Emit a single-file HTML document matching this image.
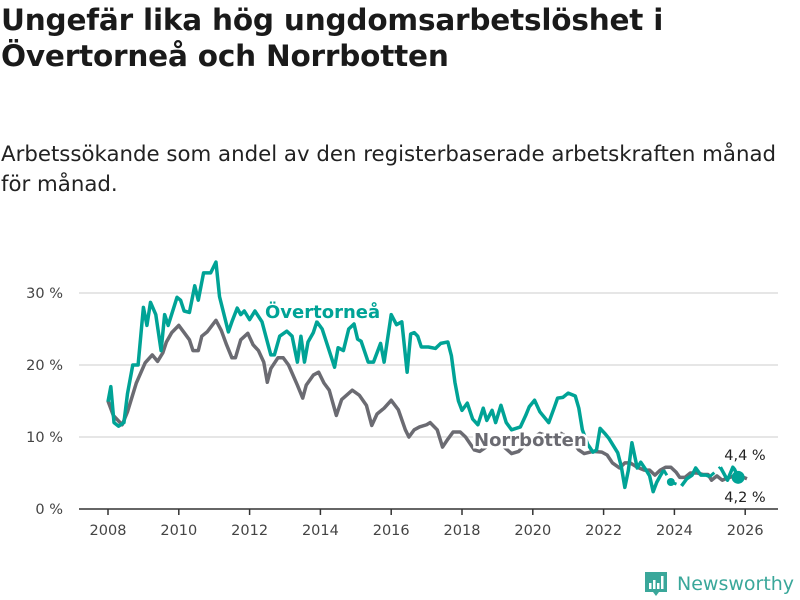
<!DOCTYPE html>
<html><head><meta charset="utf-8"><style>
body{margin:0;background:#fff;width:800px;height:600px;overflow:hidden;font-family:"DejaVu Sans","Liberation Sans",sans-serif;}
#title{position:absolute;left:1px;top:2px;font-size:29.5px;font-weight:bold;color:#1a1a1a;line-height:36px;margin:0;white-space:nowrap;letter-spacing:-0.2px;}
#sub{position:absolute;left:1px;top:140px;font-size:21.3px;color:#222;line-height:30px;white-space:nowrap;}
svg{position:absolute;left:0;top:0;}
</style></head><body>
<h1 id="title">Ungefär lika hög ungdomsarbetslöshet i<br>Övertorneå och Norrbotten</h1>
<div id="sub">Arbetssökande som andel av den registerbaserade arbetskraften månad<br>för månad.</div>
<svg id="chart" width="800" height="600"></svg>
<script>
const yTicks=[0,10,20,30];
const yTickLabels=["0 %","10 %","20 %","30 %"];
const xTicks=[2008,2010,2012,2014,2016,2018,2020,2022,2024,2026];
const overDates=[2008.0,2008.08,2008.17,2008.3,2008.45,2008.55,2008.7,2008.85,2009.0,2009.1,2009.2,2009.35,2009.5,2009.6,2009.7,2009.95,2010.05,2010.15,2010.3,2010.45,2010.55,2010.7,2010.9,2011.05,2011.15,2011.4,2011.5,2011.65,2011.75,2011.85,2012.0,2012.15,2012.35,2012.6,2012.7,2012.85,2013.05,2013.2,2013.35,2013.45,2013.55,2013.65,2013.8,2013.9,2014.05,2014.4,2014.5,2014.65,2014.8,2014.95,2015.05,2015.15,2015.35,2015.5,2015.7,2015.8,2016.0,2016.15,2016.3,2016.45,2016.55,2016.65,2016.75,2016.85,2017.05,2017.25,2017.4,2017.6,2017.7,2017.8,2017.9,2018.0,2018.15,2018.3,2018.45,2018.6,2018.7,2018.85,2018.95,2019.1,2019.25,2019.4,2019.65,2019.8,2019.9,2020.05,2020.2,2020.45,2020.6,2020.7,2020.85,2021.0,2021.2,2021.3,2021.4,2021.55,2021.7,2021.8,2021.9,2022.05,2022.15,2022.3,2022.4,2022.5,2022.6,2022.7,2022.8,2022.95,2023.05,2023.2,2023.3,2023.4,2023.5,2023.6,2023.7,2023.8,2023.9,2024.05,2024.2,2024.35,2024.5,2024.6,2024.75,2024.9,2025.0,2025.2,2025.3,2025.5,2025.65,2025.7,2025.8,2025.9,2026.05];
const overValues=[14.9,17,12,11.5,12,16,20,20,28,25.5,28.7,27,22,27,25.5,29.4,29,27.5,27.3,31,29,32.8,32.8,34.3,29.5,24.6,26,27.9,27,27.5,26.3,27.5,26,21.4,21.4,24,24.7,24,20.4,24,20.4,23.2,24.5,26,25,19.7,22.4,22,25,25.7,23.6,23.3,20.4,20.4,23,20.4,27,25.6,26,19,24.3,24.5,24,22.5,22.5,22.3,23,23.2,21.3,17.6,15,13.7,14.7,12.5,11.7,14,12.3,13.7,12,14.4,12,11,11.4,13,14.2,15.1,13.5,12,14,15.4,15.5,16.1,15.7,14,11,9,7.9,8.2,11.2,10.4,9.8,8.6,7.8,5.9,3,5.4,9.2,5.7,6.5,5.4,4.6,2.4,3.7,4.6,5.4,null,3.75,null,3.2,4.2,4.7,5.7,4.7,4.7,4.5,null,5.8,4,5.8,5.5,4.4];
const norrDates=[2008.0,2008.15,2008.4,2008.55,2008.8,2009.05,2009.25,2009.4,2009.55,2009.65,2009.8,2010.0,2010.15,2010.3,2010.4,2010.55,2010.65,2010.8,2011.05,2011.2,2011.35,2011.5,2011.6,2011.75,2011.95,2012.1,2012.25,2012.4,2012.5,2012.6,2012.8,2012.95,2013.1,2013.35,2013.5,2013.6,2013.8,2013.95,2014.1,2014.25,2014.45,2014.6,2014.9,2015.1,2015.3,2015.45,2015.6,2015.8,2016.0,2016.2,2016.4,2016.5,2016.65,2016.8,2017.0,2017.1,2017.3,2017.45,2017.6,2017.75,2017.95,2018.1,2018.35,2018.5,2018.8,2019.1,2019.4,2019.6,2019.9,2020.2,2020.5,2020.8,2021.1,2021.3,2021.45,2021.7,2021.95,2022.1,2022.25,2022.45,2022.6,2022.75,2022.95,2023.15,2023.3,2023.45,2023.6,2023.75,2023.9,2024.05,2024.15,2024.3,2024.45,2024.65,2024.8,2024.95,2025.05,2025.2,2025.35,2025.5,2025.7,2025.85,2026.05];
const norrValues=[15,13,11.7,13.5,17.5,20.3,21.4,20.5,21.7,23.2,24.5,25.5,24.5,23.5,22,22,24,24.6,26.2,24.8,22.8,21,21,23.5,24.4,22.8,22,20.4,17.6,19.5,21,21,20,17.2,15.4,17.2,18.6,19,17.5,16.5,13,15.2,16.5,15.8,14.4,11.6,13.2,14,15.1,13.8,11,10,11,11.4,11.7,12,11,8.6,9.7,10.7,10.7,10,8.2,8,9,9,7.7,8,9.5,10.5,10,10.5,9.5,8.2,7.7,8,7.9,7.5,6.4,5.7,6.4,6.4,5.8,5.4,5.4,4.7,5.4,5.8,5.8,5.1,4.4,4.4,5,5,4.8,4.8,4,4.6,4,4.3,4.6,4.6,4.2];
const endLabels=["4,4 %","4,2 %"];

const svg=document.getElementById('chart');
const NS='http://www.w3.org/2000/svg';
const FF='DejaVu Sans, Liberation Sans, sans-serif';
const x=v=>108+(v-2008)*35.4;
const y=v=>509-v*7.2;
function mk(tag,attrs,parent){const e=document.createElementNS(NS,tag);for(const k in attrs)e.setAttribute(k,attrs[k]);(parent||svg).appendChild(e);return e;}

yTicks.forEach((t,i)=>{
  if(t>0){const g=mk('line',{x1:79,x2:778,y1:y(t),y2:y(t),stroke:'#ddd','stroke-width':1.5});
  
  }
  const l=mk('text',{x:63,y:y(t)+5,'text-anchor':'end','font-size':14.5,fill:'#444','font-family':FF});
  l.textContent=yTickLabels[i];
  
  
});
const ax=mk('line',{x1:79,x2:778,y1:509,y2:509,stroke:'#333','stroke-width':1.5});


xTicks.forEach(t=>{
  const tk=mk('line',{x1:x(t),x2:x(t),y1:509,y2:515,stroke:'#333','stroke-width':1.5});
  
  
  const l=mk('text',{x:x(t),y:535,'text-anchor':'middle','font-size':14.5,fill:'#444','font-family':FF});
  l.textContent=t;
  
  
});

function drawSeries(dates,vals,color,name){
  const segs=[];let cur=[];
  vals.forEach((v,i)=>{if(v===null){if(cur.length)segs.push(cur);cur=[];}else cur.push([x(dates[i]),y(v)]);});
  if(cur.length)segs.push(cur);
  for(let i=0;i<segs.length-1;i++){
    const a=segs[i][segs[i].length-1],b=segs[i+1][0];
    const d=mk('line',{x1:a[0],y1:a[1],x2:b[0],y2:b[1],stroke:color,'stroke-width':3,'stroke-dasharray':'6,6'});
    
    
  }
  segs.forEach(s=>{
    if(s.length===1){const c=mk('circle',{cx:s[0][0],cy:s[0][1],r:4,fill:color});
      
      }
    else{const p=mk('polyline',{points:s.map(q=>q.join(',')).join(' '),fill:'none',stroke:color,'stroke-width':3.5,'stroke-linejoin':'round'});
      
      }
  });
}
drawSeries(norrDates,norrValues,'#6b6b72','norrbotten');
drawSeries(overDates,overValues,'#00a396','overtornea');
const lo=overValues.length-1;
const d0=mk('circle',{cx:x(overDates[lo]),cy:y(overValues[lo]),r:6.5,fill:'#00a396'});


const e1=mk('text',{x:745,y:460,'text-anchor':'middle','font-size':14.5,fill:'#222','font-family':FF});
e1.textContent=endLabels[0];


const e2=mk('text',{x:745,y:502,'text-anchor':'middle','font-size':14.5,fill:'#222','font-family':FF});
e2.textContent=endLabels[1];



const s1=mk('text',{x:265,y:318,'font-size':18,'font-weight':'bold',fill:'#00a396',stroke:'#fff','stroke-width':5,'paint-order':'stroke','font-family':FF});
s1.textContent='Övertorneå';


const s2=mk('text',{x:474,y:446,'font-size':18,'font-weight':'bold',fill:'#6b6b72',stroke:'#fff','stroke-width':5,'paint-order':'stroke','font-family':FF});
s2.textContent='Norrbotten';



const logo=mk('g',{});


mk('path',{d:'M645 572 h22 v20 h-8 l-3 4 l-3 -4 h-8 z',fill:'#3aa79a'},logo);
mk('rect',{x:649,y:583,width:2.5,height:6,fill:'#fff'},logo);
mk('rect',{x:653,y:580,width:2.5,height:9,fill:'#fff'},logo);
mk('rect',{x:657,y:583,width:2.5,height:6,fill:'#fff'},logo);
mk('rect',{x:661,y:576,width:2.5,height:13,fill:'#fff'},logo);
const lt=mk('text',{x:677,y:590,'font-size':19,fill:'#3aa79a','font-family':FF},logo);
lt.textContent='Newsworthy';
</script>
</body></html>
